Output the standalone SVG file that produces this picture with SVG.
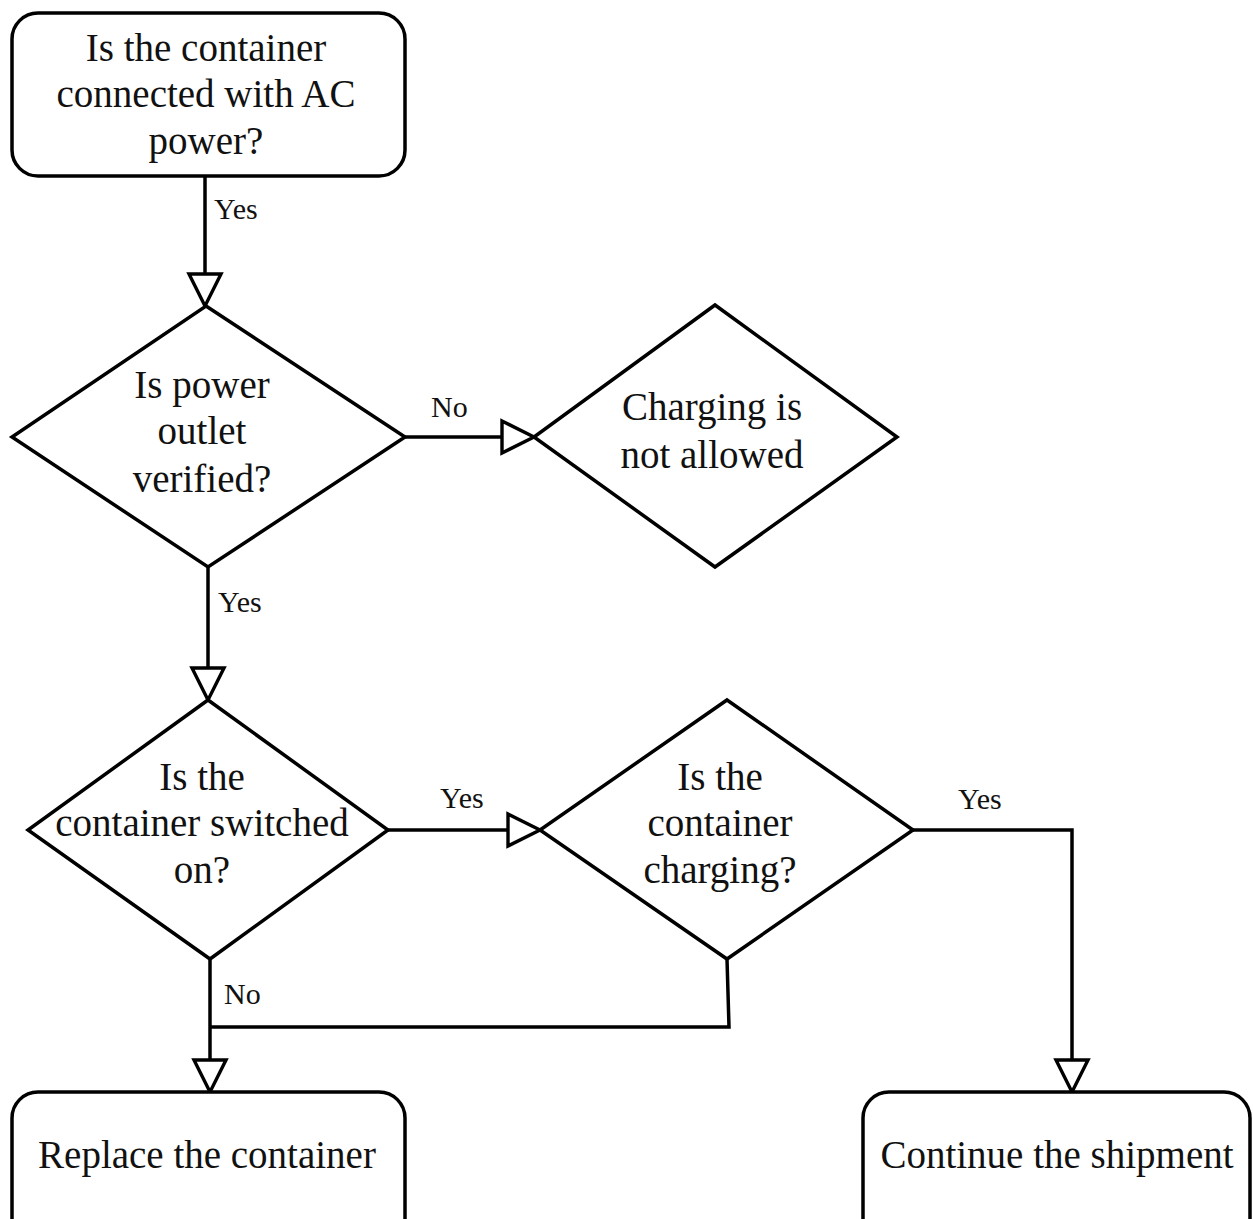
<svg xmlns="http://www.w3.org/2000/svg" width="1253" height="1219" viewBox="0 0 1253 1219">
<defs>
<marker id="arr" markerUnits="userSpaceOnUse" markerWidth="40" markerHeight="40" viewBox="-4 -4 40 40" refX="32" refY="16" orient="auto" overflow="visible">
<path d="M0,0 L32,16 L0,32 Z" fill="#fff" stroke="#000" stroke-width="3.4" stroke-linejoin="miter"/>
</marker>
</defs>
<style>
.shape{fill:#fff;stroke:#000;stroke-width:3.5}
.t{font-family:"Liberation Serif","Times New Roman",serif;font-size:39px;fill:#111;text-anchor:middle}
.l{font-family:"Liberation Serif","Times New Roman",serif;font-size:30px;fill:#111}
.c{fill:none;stroke:#000;stroke-width:3.5}
</style>
<rect width="1253" height="1219" fill="#fff"/>
<g id="connectors">
<path class="c" d="M205,176 L205,306" marker-end="url(#arr)"/>
<path class="c" d="M405,437 L534,437" marker-end="url(#arr)"/>
<path class="c" d="M208,567 L208,700" marker-end="url(#arr)"/>
<path class="c" d="M388,830 L540,830" marker-end="url(#arr)"/>
<path class="c" d="M913,830 L1072,830 L1072,1092" marker-end="url(#arr)"/>
<path class="c" d="M727,959 L729,1027 L210,1027"/>
<path class="c" d="M210,959 L210,1092" marker-end="url(#arr)"/>
<text class="l" x="214" y="219">Yes</text>
<text class="l" x="431" y="417">No</text>
<text class="l" x="218" y="612">Yes</text>
<text class="l" x="440" y="808">Yes</text>
<text class="l" x="958" y="809">Yes</text>
<text class="l" x="224" y="1004">No</text>
</g>
<g id="start">
<rect class="shape" x="12" y="13" width="393" height="163" rx="26" ry="26"/>
<text class="t" x="206" y="61">Is the container</text>
<text class="t" x="206" y="107">connected with AC</text>
<text class="t" x="206" y="154">power?</text>
</g>
<g id="outlet">
<polygon class="shape" points="206,306 405,437 208,567 12,437"/>
<text class="t" x="202" y="398">Is power</text>
<text class="t" x="202" y="444">outlet</text>
<text class="t" x="202" y="492">verified?</text>
</g>
<g id="notallowed">
<polygon class="shape" points="715,305 897,437 715,567 534,437"/>
<text class="t" x="712" y="420">Charging is</text>
<text class="t" x="712" y="468">not allowed</text>
</g>
<g id="switched">
<polygon class="shape" points="208,700 388,830 210,959 28,830"/>
<text class="t" x="202" y="790">Is the</text>
<text class="t" x="202" y="836">container switched</text>
<text class="t" x="202" y="883">on?</text>
</g>
<g id="charging">
<polygon class="shape" points="727,700 913,830 727,959 540,830"/>
<text class="t" x="720" y="790">Is the</text>
<text class="t" x="720" y="836">container</text>
<text class="t" x="720" y="883">charging?</text>
</g>
<g id="replace">
<rect class="shape" x="12" y="1092" width="393" height="160" rx="26" ry="26"/>
<text class="t" x="207" y="1168">Replace the container</text>
</g>
<g id="continue">
<rect class="shape" x="863" y="1092" width="387" height="160" rx="26" ry="26"/>
<text class="t" x="1057" y="1168">Continue the shipment</text>
</g>
</svg>
